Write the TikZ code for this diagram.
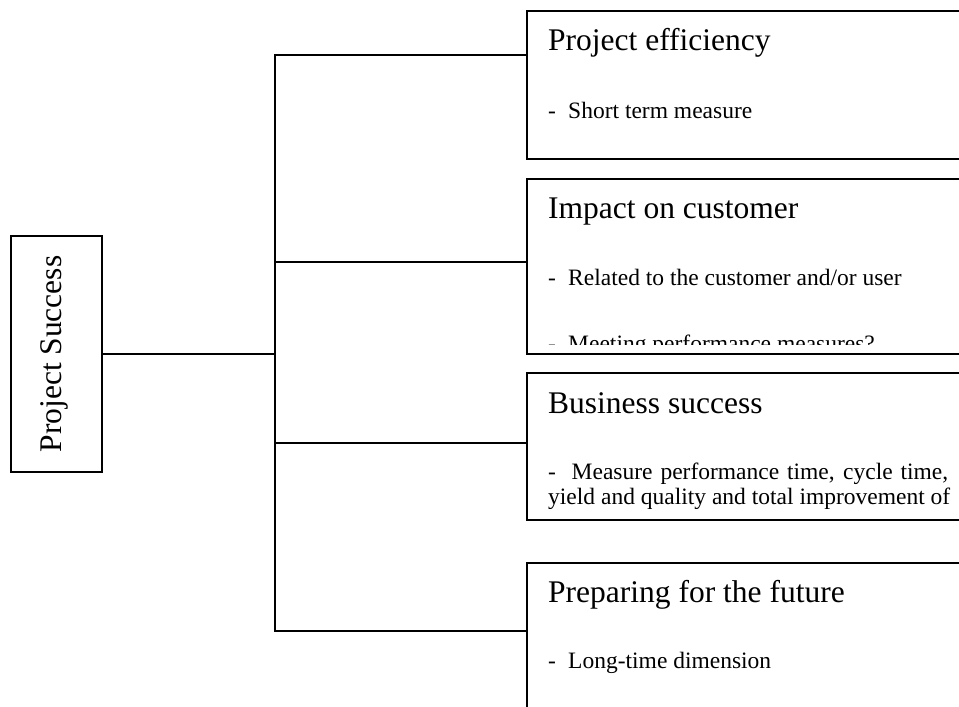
\documentclass[tikz,border=0pt]{standalone}
\usepackage{fontspec}
\setmainfont{Liberation Serif}
\begin{document}
\begin{tikzpicture}[x=1pt,y=-1pt,
  frame/.style={draw=black, line width=1.4pt, inner sep=0pt, outer sep=0pt, anchor=north west},
  wire/.style={draw=black, line width=1.4pt},
  head/.style={anchor=base west, inner sep=0pt, font=\fontsize{31.5}{36}\selectfont},
  item/.style={anchor=base west, inner sep=0pt, font=\fontsize{23.5}{26}\selectfont}]
\clip (0,0) rectangle (959,707);

% root box with vertical label
\node[draw=black, line width=1.4pt, inner sep=0pt, minimum width=91pt, minimum height=236pt] (root) at (56.5,354) {};
\node[rotate=90, anchor=base, inner sep=0pt, font=\fontsize{31.5}{36}\selectfont] (rootlabel) at (61,354) {Project Success};

% outcome boxes (running past the right edge)
\node[frame, minimum width=460pt, minimum height=148pt] (eff) at (527,11) {};
\node[frame, minimum width=460pt, minimum height=175pt] (cust) at (527,179) {};
\node[frame, minimum width=460pt, minimum height=147pt] (bus) at (527,373) {};
\node[frame, minimum width=460pt, minimum height=180pt] (fut) at (527,563) {};

% tree connectors
\coordinate (hub) at (275,354);
\coordinate (t1) at (275,55);
\coordinate (t2) at (275,262);
\coordinate (t3) at (275,443);
\coordinate (t4) at (275,631);
\draw[wire] (root.east |- hub) -- (hub);
\draw[wire] (t1 -| eff.west) -- (t1) -- (t4) -- (t4 -| fut.west);
\draw[wire] (t2) -- (t2 -| cust.west);
\draw[wire] (t3) -- (t3 -| bus.west);

% texts
\node[head] (effh) at (548,50.5) {Project efficiency};
\node[item] (eff1) at (548,118) {-\hspace{12.2pt}Short term measure};

\node[head] (custh) at (548,218) {Impact on customer};
\node[item] (cust1) at (548,285) {-\hspace{12.2pt}Related to the customer and/or user};
\begin{scope}
  \clip (527,179) rectangle (959,344);
  \node[item] (cust2) at (548,351) {-\hspace{12.2pt}Meeting performance measures?};
\end{scope}

\node[head] (bush) at (548,413) {Business success};
\node[item] (bus1) at (548,479) {\makebox[400pt][s]{-\hspace{15.7pt}Measure performance time, cycle time,}};
\begin{scope}
  \clip (527,373) rectangle (959,508.5);
  \node[item] (bus2) at (548,504) {yield and quality and total improvement of};
\end{scope}

\node[head] (futh) at (548,602) {Preparing for the future};
\node[item] (fut1) at (548,668) {-\hspace{12.2pt}Long-time dimension};
\end{tikzpicture}
\end{document}
